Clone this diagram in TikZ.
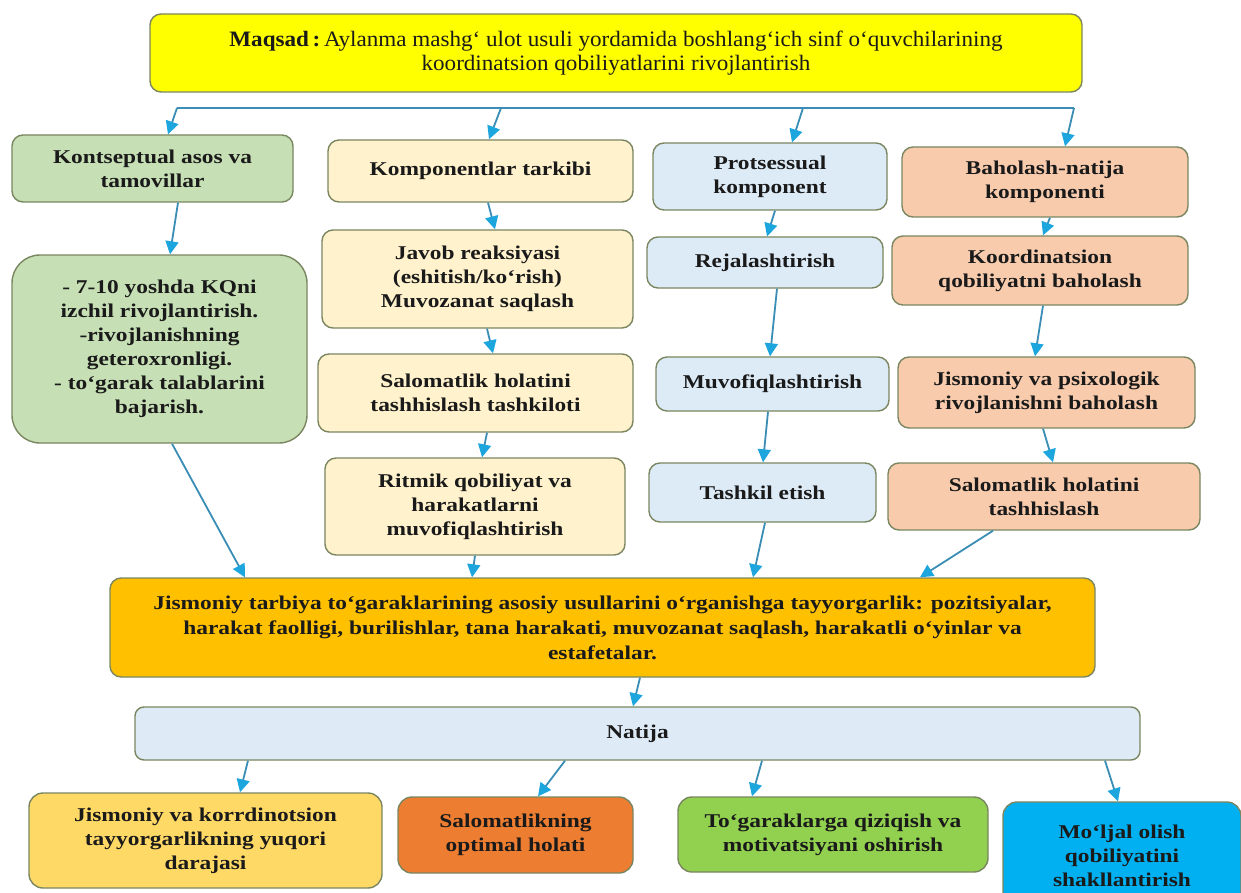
\documentclass[tikz,border=0pt]{standalone}
\usepackage{fontspec}
\setmainfont{Liberation Serif}[FakeStretch=1.2]
\newfontfamily\titlefont{Liberation Serif}[FakeStretch=1.05]
\usetikzlibrary{arrows.meta}
\definecolor{bordc}{HTML}{7A8660}
\definecolor{txt}{HTML}{1A1A1A}
\definecolor{ctop}{HTML}{FFFF00}
\definecolor{cgreen}{HTML}{C6DFB4}
\definecolor{ccream}{HTML}{FFF2CC}
\definecolor{cblue}{HTML}{DDEBF7}
\definecolor{cpeach}{HTML}{F8CBAD}
\definecolor{cmain}{HTML}{FFC000}
\definecolor{cnat}{HTML}{DEEBF7}
\definecolor{ceA}{HTML}{FFD966}
\definecolor{ceB}{HTML}{ED7D31}
\definecolor{ceC}{HTML}{92D050}
\definecolor{ceD}{HTML}{00B0F0}
\definecolor{arrline}{HTML}{3A8DB5}
\definecolor{arrhead}{HTML}{1DA5DE}
\tikzset{
  box/.style={draw=bordc, line width=1.4pt, rounded corners=11pt, align=center,
    inner sep=0pt, text=txt, font=\bfseries\fontsize{19.5}{24}\selectfont},
  conn/.style={draw=arrline, line width=1.8pt},
  arr/.style={conn, -{Triangle[length=13pt,width=13pt,color=arrhead]}},
}
\begin{document}
\begin{tikzpicture}[x=1pt,y=-1pt]
\useasboundingbox (0,0) rectangle (1241,893);
\fill[white] (0,0) rectangle (1241,893);
\clip (0,0) rectangle (1241,893);

% top
\node[box, fill=ctop, minimum width=932pt, minimum height=78pt,
  font=\titlefont\fontsize{22}{23.5}\selectfont] (top) at (616,53)
  {\textbf{Maqsad\,:}\,Aylanma mashg‘ ulot usuli yordamida boshlang‘ich sinf o‘quvchilarining\\koordinatsion qobiliyatlarini rivojlantirish};

% column A
\node[box, fill=cgreen, minimum width=281pt, minimum height=67pt] (A1) at (152.5,168.5)
  {Kontseptual asos va\\tamovillar};
\node[box, fill=cgreen, rounded corners=28pt, minimum width=295pt, minimum height=188pt] (A2) at (159.5,349)
  {- 7-10 yoshda KQni\\izchil rivojlantirish.\\-rivojlanishning\\geteroxronligi.\\- to‘garak talablarini\\bajarish.};

% column B
\node[box, fill=ccream, minimum width=305pt, minimum height=62pt] (B1) at (480.5,171)
  {Komponentlar tarkibi};
\node[box, fill=ccream, minimum width=311pt, minimum height=98pt] (B2) at (477.5,279)
  {Javob reaksiyasi\\(eshitish/ko‘rish)\\Muvozanat saqlash};
\node[box, fill=ccream, minimum width=315pt, minimum height=78pt] (B3) at (475.5,393)
  {Salomatlik holatini\\tashhislash tashkiloti};
\node[box, fill=ccream, minimum width=300pt, minimum height=97pt] (B4) at (475,506.5)
  {Ritmik qobiliyat va\\harakatlarni\\muvofiqlashtirish};

% column C
\node[box, fill=cblue, minimum width=234pt, minimum height=67pt] (C1) at (770,176.5)
  {Protsessual\\komponent};
\node[box, fill=cblue, minimum width=236pt, minimum height=51pt] (C2) at (765,262.5)
  {Rejalashtirish};
\node[box, fill=cblue, minimum width=233pt, minimum height=54pt] (C3) at (772.5,384)
  {Muvofiqlashtirish};
\node[box, fill=cblue, minimum width=227pt, minimum height=59pt] (C4) at (762.5,492.5)
  {Tashkil etish};

% column D
\node[box, fill=cpeach, minimum width=286pt, minimum height=70pt] (D1) at (1045,182)
  {Baholash-natija\\komponenti};
\node[box, fill=cpeach, minimum width=296pt, minimum height=69pt] (D2) at (1040,270.5)
  {Koordinatsion\\qobiliyatni baholash};
\node[box, fill=cpeach, minimum width=297pt, minimum height=71pt] (D3) at (1046.5,392.5)
  {Jismoniy va psixologik\\rivojlanishni baholash};
\node[box, fill=cpeach, minimum width=312pt, minimum height=67pt] (D4) at (1044,496.5)
  {Salomatlik holatini\\tashhislash};

% main
\node[box, fill=cmain, minimum width=985pt, minimum height=99pt,
  font=\bfseries\fontsize{19.5}{25}\selectfont] (M) at (602.5,627.5)
  {Jismoniy tarbiya to‘garaklarining asosiy usullarini o‘rganishga tayyorgarlik: pozitsiyalar,\\harakat faolligi, burilishlar, tana harakati, muvozanat saqlash, harakatli o‘yinlar va\\estafetalar.};

% natija
\node[box, fill=cnat, rounded corners=9pt, minimum width=1005pt, minimum height=53pt] (N) at (637.5,733.5) {Natija};

% bottom
\node[box, fill=ceA, rounded corners=14pt, minimum width=353pt, minimum height=95pt] (E1) at (205.5,840.5)
  {Jismoniy va korrdinotsion\\tayyorgarlikning yuqori\\darajasi};
\node[box, fill=ceB, rounded corners=14pt, minimum width=235pt, minimum height=76pt] (E2) at (515.5,835)
  {Salomatlikning\\optimal holati};
\node[box, fill=ceC, rounded corners=14pt, minimum width=310pt, minimum height=75pt] (E3) at (833,834.5)
  {To‘garaklarga qiziqish va\\motivatsiyani oshirish};
\node[box, fill=ceD, rounded corners=14pt, minimum width=238pt, minimum height=108pt] (E4) at (1122,856)
  {Mo‘ljal olish\\qobiliyatini\\shakllantirish};

% top distribution line
\coordinate (h1) at (177,108);
\coordinate (h2) at (501,108);
\coordinate (h3) at (803,108);
\coordinate (h4) at (1074,108);
\draw[conn] (h1) -- (h4);
\draw[arr] (h1) -- ([xshift=15.5pt]A1.north);
\draw[arr] (h2) -- ([xshift=8.5pt]B1.north);
\draw[arr] (h3) -- ([xshift=22pt]C1.north);
\draw[arr] (h4) -- ([xshift=20pt]D1.north);

% column arrows
\draw[arr] ([xshift=25.5pt]A1.south) -- ([xshift=10.5pt]A2.north);
\draw[arr] ([xshift=12.5pt]A2.south) -- ([xshift=-357.5pt]M.north);

\draw[arr] ([xshift=7.5pt]B1.south) -- ([xshift=17.5pt]B2.north);
\draw[arr] ([xshift=9.5pt]B2.south) -- ([xshift=17.5pt]B3.north);
\draw[arr] ([xshift=11.5pt]B3.south) -- ([xshift=7pt]B4.north);
\draw[arr] (B4.south) -- ([xshift=-130.5pt]M.north);

\draw[arr] ([xshift=5pt]C1.south) -- ([xshift=2pt]C2.north);
\draw[arr] ([xshift=12pt]C2.south) -- ([xshift=-2.5pt]C3.north);
\draw[arr] ([xshift=-4.5pt]C3.south) -- ([xshift=0.5pt]C4.north);
\draw[arr] ([xshift=2.5pt]C4.south) -- ([xshift=150.5pt]M.north);

\draw[arr] ([xshift=5pt]D1.south) -- ([xshift=3pt]D2.north);
\draw[arr] ([xshift=3pt]D2.south) -- ([xshift=-11.5pt]D3.north);
\draw[arr] ([xshift=-3.5pt]D3.south) -- ([xshift=9pt]D4.north);
\draw[arr] ([xshift=-51pt]D4.south) -- ([xshift=317.5pt]M.north);

\draw[arr] ([xshift=37.5pt]M.south) -- ([xshift=-4.5pt]N.north);
\draw[arr] ([xshift=-389.5pt]N.south) -- ([xshift=34.5pt]E1.north);
\draw[arr] ([xshift=-72.5pt]N.south) -- ([xshift=22.5pt]E2.north);
\draw[arr] ([xshift=124.5pt]N.south) -- ([xshift=-81pt]E3.north);
\draw[arr] ([xshift=467.5pt]N.south) -- ([xshift=-4pt]E4.north);
\end{tikzpicture}
\end{document}
